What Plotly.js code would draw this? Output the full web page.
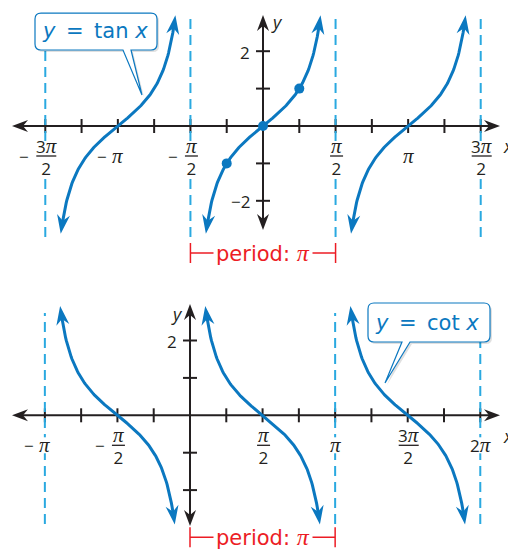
<!DOCTYPE html>
<html><head><meta charset="utf-8">
<script src="https://cdn.plot.ly/plotly-3.0.1.min.js"></script>
<style>html,body{margin:0;padding:0;background:#fff;overflow:hidden}</style>
</head><body><div id="chart" style="width:508px;height:552px"></div>
<script>
const PI = Math.PI;
// ---------- data ----------
// y = tan x
const tanBranchCenters = [-PI, 0, PI];
const tanCurveEndsY = [-2.88, 2.96];
const tanAsymptotes = [-3*PI/2, -PI/2, PI/2, 3*PI/2];
const tanPointsX = [-PI/4, 0, PI/4];
const tanPointsY = [-1, 0, 1];
const tanXTickQuarters = [-6,-5,-4,-3,-2,-1,1,2,3,4,5,6];   // multiples of pi/4
const tanXLabelVals = [-3*PI/2, -PI, -PI/2, PI/2, PI, 3*PI/2];
const tanXLabelText = ['−3π/2','−π','−π/2','π/2','π','3π/2'];
const tanYTickVals = [-2,-1,1,2];
const tanYLabelText = ['−2','','','2'];
const tanPeriod = [-PI/2, PI/2];
// y = cot x
const cotBranchCenters = [-PI/2, PI/2, 3*PI/2];
const cotCurveEndsY = [2.92, -2.92];
const cotAsymptotes = [-PI, PI, 2*PI];
const cotXTickQuarters = [-4,-3,-2,-1,1,2,3,4,5,6,7,8];
const cotXLabelVals = [-PI, -PI/2, PI/2, PI, 3*PI/2, 2*PI];
const cotXLabelText = ['−π','−π/2','π/2','π','3π/2','2π'];
const cotYTickVals = [-2,-1,1,2];
const cotYLabelText = ['','','','2'];
const cotPeriod = [0, PI];

// ---------- geometry / style ----------
const W = 508, H = 552, SX = 46.2, SY = 37.4;
const TOP = {ox:263, oy:126, xa:'x', ya:'y', axX:[12,500], axY:[15,230], asY:[13,237]};
const BOT = {ox:190, oy:415.3, xa:'x2', ya:'y2', axX:[12,500], axY:[304,526], asY:[313,524]};
const BLUE = '#0b78c0', DASHC = '#2aa9e0', INK = '#231f20', RED = '#ec1c24';
const SANS = 'Open Sans, Noto Sans, sans-serif';
const WIDE = 'DejaVu Sans, sans-serif';
const piSpan = sz => '<span style="font-family:Liberation Serif;font-size:' + sz + 'px"><i>π</i></span>';
const fmt = s => s.replace(/π/g, piSpan(21));
const dx = (g, px) => (px - g.ox) / SX;
const dy = (g, py) => (g.oy - py) / SY;

const shapes = [], annotations = [], traces = [];

function arrowHead(g, xt, yt, ang, L, Wd, N, color) {
  const pts = [[0,0],[-L,Wd/2],[-L+N,0],[-L,-Wd/2]].map(([a,b]) =>
    [a*Math.cos(ang) - b*Math.sin(ang), a*Math.sin(ang) + b*Math.cos(ang)]);
  const path = 'M' + pts.map(p => p[0].toFixed(2) + ',' + p[1].toFixed(2)).join(' L') + ' Z';
  shapes.push({type:'path', xref:g.xa, yref:g.ya, xsizemode:'pixel', ysizemode:'pixel',
    xanchor:xt, yanchor:yt, path, fillcolor:color, line:{width:0}, layer:'above'});
}

function ann(g, x, y, text, o) {
  annotations.push(Object.assign({xref:g.xa, yref:g.ya, x, y, text, showarrow:false,
    xanchor:'center', yanchor:'middle', font:{family:SANS, size:17, color:INK}}, o || {}));
}

function mask(g, x, hw, ya, yb) {
  shapes.push({type:'rect', xref:g.xa, yref:g.ya, xsizemode:'pixel', xanchor:x, x0:-hw, x1:hw,
    ysizemode:'pixel', yanchor:0, y0:ya, y1:yb, fillcolor:'#fff', line:{width:0}, layer:'below'});
}

function drawAxes(g) {
  const x0 = dx(g, g.axX[0]), x1 = dx(g, g.axX[1]);
  const y0 = dy(g, g.axY[1]), y1 = dy(g, g.axY[0]);
  shapes.push({type:'line', xref:g.xa, yref:g.ya, x0:x0 + 8/SX, x1:x1 - 8/SX, y0:0, y1:0, line:{color:INK, width:2}, layer:'below'});
  shapes.push({type:'line', xref:g.xa, yref:g.ya, x0:0, x1:0, y0:y0 + 8/SY, y1:y1 - 8/SY, line:{color:INK, width:2}, layer:'below'});
  arrowHead(g, x0, 0, PI, 16, 12, 5, INK);
  arrowHead(g, x1, 0, 0, 16, 12, 5, INK);
  arrowHead(g, 0, y1, PI/2, 16, 12, 5, INK);
  arrowHead(g, 0, y0, -PI/2, 16, 12, 5, INK);
}

function drawTicks(g, quarters, yvals) {
  quarters.forEach(q => shapes.push({type:'line', xref:g.xa, yref:g.ya, x0:q*PI/4, x1:q*PI/4,
    ysizemode:'pixel', yanchor:0, y0:-7, y1:7, line:{color:INK, width:2}, layer:'below'}));
  yvals.forEach(v => shapes.push({type:'line', xref:g.xa, yref:g.ya, y0:v, y1:v,
    xsizemode:'pixel', xanchor:0, x0:-7, x1:7, line:{color:INK, width:2}, layer:'below'}));
}

function drawAsymptotes(g, xs) {
  xs.forEach(x => shapes.push({type:'line', xref:g.xa, yref:g.ya, x0:x, x1:x,
    y0:dy(g, g.asY[1]), y1:dy(g, g.asY[0]), line:{color:DASHC, width:2, dash:'10px,6px'}, layer:'below'}));
}

function drawXLabels(g, vals, texts) {
  vals.forEach((v, i) => {
    const s = texts[i]; if (!s) return;
    const neg = s[0] === '−', body = neg ? s.slice(1) : s;
    if (body.indexOf('/') >= 0) {
      const [num, den] = body.split('/');
      const w = num.length > 1 ? 20 : 13;
      mask(g, v, w/2 + 3, -47, -16);
      ann(g, v, 0, fmt(num) + '<br>' + den, {xshift:1, yshift:-30.5});
      shapes.push({type:'line', xref:g.xa, yref:g.ya, xsizemode:'pixel', xanchor:v, x0:1 - w/2, x1:1 + w/2,
        ysizemode:'pixel', yanchor:0, y0:-30, y1:-30, line:{color:INK, width:1.3}, layer:'above'});
      if (neg) ann(g, v, 0, '−', {xshift:1 - (w/2 + 12), yshift:-30});
    } else {
      mask(g, v, 9, -38, -22);
      ann(g, v, 0, fmt(body), {yshift:-30});
      if (neg) ann(g, v, 0, '−', {xshift:-16, yshift:-30});
    }
  });
}

function drawYLabels(g, vals, texts) {
  vals.forEach((v, i) => { if (texts[i]) ann(g, 0, v, texts[i], {xanchor:'right', xshift:-11, yshift:-1}); });
}

function drawBranch(g, P, tA, tB) {
  const pdist = (t, tt) => { const a = P(t), b = P(tt); return Math.hypot((a[0]-b[0])*SX, (a[1]-b[1])*SY); };
  const back = (tt, d) => { let lo = tt, hi = 0; for (let k = 0; k < 40; k++) { const m = (lo+hi)/2; if (pdist(m, tt) < d) lo = m; else hi = m; } return lo; };
  const sA = back(tA, 9), sB = back(tB, 9);
  const xs = [], ys = [], n = 160;
  for (let k = 0; k <= n; k++) { const t = sA + (sB - sA)*k/n; const p = P(t); xs.push(p[0]); ys.push(p[1]); }
  traces.push({x:xs, y:ys, xaxis:g.xa, yaxis:g.ya, mode:'lines', line:{color:BLUE, width:3}, hoverinfo:'skip'});
  [tA, tB].forEach(tt => {
    const tip = P(tt), b = P(back(tt, 13));
    const ang = Math.atan2((tip[1]-b[1])*SY, (tip[0]-b[0])*SX);
    arrowHead(g, tip[0], tip[1], ang, 19, 13, 6, BLUE);
  });
}

function drawPeriod(g, p, off) {
  shapes.push({type:'line', xref:g.xa, yref:g.ya, x0:p[0], x1:p[1], ysizemode:'pixel', yanchor:0, y0:-off, y1:-off, line:{color:RED, width:1.5}, layer:'above'});
  p.forEach(x => shapes.push({type:'line', xref:g.xa, yref:g.ya, x0:x, x1:x, ysizemode:'pixel', yanchor:0, y0:-off-10, y1:-off+10, line:{color:RED, width:1.5}, layer:'above'}));
  ann(g, (p[0]+p[1])/2, 0, 'period: ' + piSpan(24), {yshift:-off, bgcolor:'#fff', borderpad:2, font:{family:WIDE, size:21, color:RED}});
}

function callout(box, base, tip, text, tc) {
  const r = 6, P = (x, y) => (x/W).toFixed(4) + ',' + (1 - y/H).toFixed(4);
  const build = (o) => {
    const [x0, y0, x1, y1] = box.map(v => v + o);
    return 'M' + P(x0+r, y0) + ' L' + P(x1-r, y0) + ' Q' + P(x1, y0) + ' ' + P(x1, y0+r) +
      ' L' + P(x1, y1-r) + ' Q' + P(x1, y1) + ' ' + P(x1-r, y1) +
      ' L' + P(base[1]+o, y1) + ' L' + P(tip[0]+o, tip[1]+o) + ' L' + P(base[0]+o, y1) +
      ' L' + P(x0+r, y1) + ' Q' + P(x0, y1) + ' ' + P(x0, y1-r) +
      ' L' + P(x0, y0+r) + ' Q' + P(x0, y0) + ' ' + P(x0+r, y0) + ' Z';
  };
  shapes.push({type:'path', xref:'paper', yref:'paper', path:build(2), fillcolor:'rgba(0,0,0,0.12)', line:{width:0}, layer:'above'});
  shapes.push({type:'path', xref:'paper', yref:'paper', path:build(0), fillcolor:'#fff', line:{color:BLUE, width:1.2}, layer:'above'});
  annotations.push({xref:'paper', yref:'paper', x:tc[0]/W, y:1 - tc[1]/H, text, showarrow:false,
    xanchor:'center', yanchor:'middle', font:{family:WIDE, size:21, color:BLUE}});
}

// ---------- top: tan ----------
drawTicks(TOP, tanXTickQuarters, tanYTickVals);
drawAsymptotes(TOP, tanAsymptotes);
drawAxes(TOP);
tanBranchCenters.forEach(c => drawBranch(TOP, t => [c + t, Math.tan(t)], Math.atan(tanCurveEndsY[0]), Math.atan(tanCurveEndsY[1])));
traces.push({x:tanPointsX, y:tanPointsY, xaxis:'x', yaxis:'y', mode:'markers', marker:{size:10, color:BLUE}, hoverinfo:'skip'});
drawXLabels(TOP, tanXLabelVals, tanXLabelText);
drawYLabels(TOP, tanYTickVals, tanYLabelText);
drawPeriod(TOP, tanPeriod, 127);
ann(TOP, 0, dy(TOP, 22), '<i>y</i>', {xshift:14, font:{family:SANS, size:18, color:INK}});
ann(TOP, dx(TOP, 501), 0, '<i>x</i>', {xanchor:'left', yshift:-20, font:{family:SANS, size:18, color:INK}});
callout([35, 13, 157, 50], [123, 131], [142, 95], '<i>y</i>\u2002=\u2002tan <i>x</i>', [95, 31]);

// ---------- bottom: cot ----------
drawTicks(BOT, cotXTickQuarters, cotYTickVals);
drawAsymptotes(BOT, cotAsymptotes);
drawAxes(BOT);
cotBranchCenters.forEach(c => drawBranch(BOT, t => [c - t, Math.tan(t)], Math.atan(cotCurveEndsY[0]), Math.atan(cotCurveEndsY[1])));
drawXLabels(BOT, cotXLabelVals, cotXLabelText);
drawYLabels(BOT, cotYTickVals, cotYLabelText);
drawPeriod(BOT, cotPeriod, 122);
ann(BOT, 0, dy(BOT, 314), '<i>y</i>', {xshift:-13, font:{family:SANS, size:18, color:INK}});
ann(BOT, dx(BOT, 501), 0, '<i>x</i>', {xanchor:'left', yshift:-21, font:{family:SANS, size:18, color:INK}});
callout([368, 303, 490, 342], [402, 410], [385, 383], '<i>y</i>\u2002=\u2002cot <i>x</i>', [427, 323]);

const layout = {
  width:W, height:H, margin:{l:0, r:0, t:0, b:0}, paper_bgcolor:'#fff', plot_bgcolor:'rgba(0,0,0,0)',
  showlegend:false, hovermode:false,
  xaxis:{domain:[0,1], range:[dx(TOP,0), dx(TOP,W)], visible:false, anchor:'y'},
  yaxis:{domain:[0.5,1], range:[dy(TOP,276), dy(TOP,0)], visible:false, anchor:'x'},
  xaxis2:{domain:[0,1], range:[dx(BOT,0), dx(BOT,W)], visible:false, anchor:'y2'},
  yaxis2:{domain:[0,0.5], range:[dy(BOT,552), dy(BOT,276)], visible:false, anchor:'x2'},
  shapes, annotations
};
Plotly.newPlot('chart', traces, layout, {staticPlot:true, displayModeBar:false});
</script></body></html>
